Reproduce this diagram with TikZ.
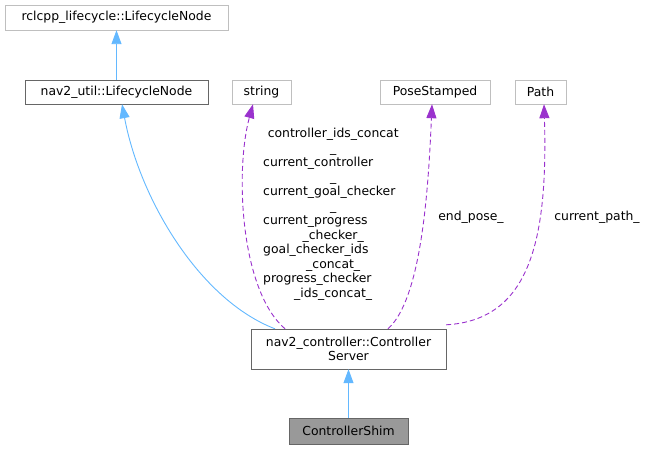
\documentclass[tikz,border=0pt]{standalone}
\usepackage{fontspec}
\setmainfont{DejaVu Sans}
\usepackage{xcolor}
\usetikzlibrary{arrows.meta}
\definecolor{inheritblue}{HTML}{63B8FF}
\definecolor{memberpurple}{HTML}{9A32CD}
\newcommand{\lline}[1]{\makebox[140pt][l]{#1}}

\begin{document}
\begin{tikzpicture}[
    x=1pt,
    y=-1pt,
    font=\fontsize{12.4pt}{14.5pt}\selectfont,
    extclass/.style={draw=black!25, fill=white, minimum height=24pt, inner sep=2pt},
    docclass/.style={draw=black!60, fill=white, minimum height=24pt, inner sep=2pt},
    thisclass/.style={draw=black!60, fill=black!40, minimum height=26pt, inner sep=2pt},
    inherit/.style={draw=inheritblue, line width=0.9pt, -{Triangle[length=14pt, width=10pt]}},
    member/.style={draw=memberpurple, line width=0.9pt, dash pattern=on 5pt off 3pt, -{Triangle[length=14pt, width=10pt]}},
    edgelabel/.style={inner sep=0pt, text=black}
]
\useasboundingbox (0,0) rectangle (647,449);
\node[extclass, minimum width=223pt, minimum height=25pt] (rcl) at (116.5,17.5) {rclcpp\_lifecycle::LifecycleNode};
\node[docclass, minimum width=183pt] (util) at (116.5,92) {nav2\_util::LifecycleNode};
\node[extclass, minimum width=59pt] (str) at (261.5,92) {string};
\node[extclass, minimum width=110pt] (pose) at (435,92) {PoseStamped};
\node[extclass, minimum width=51pt] (path) at (540.5,92) {Path};
\node[docclass, minimum width=195pt, minimum height=40pt, align=center] (srv) at (348.5,349) {nav2\_controller::Controller\\Server};
\node[thisclass, minimum width=119pt] (shim) at (348.5,431) {ControllerShim};
\draw[inherit] (util) -- (rcl);
\draw[inherit] ([xshift=-73.5pt]srv.north) .. controls (200,300) and (140,200) .. ([xshift=5.5pt]util.south);
\draw[member] ([xshift=-63.5pt]srv.north) .. controls (240,290) and (235,170) .. ([xshift=-8.5pt]str.south);
\draw[member] ([xshift=39.5pt]srv.north) .. controls (420,300) and (428,200) .. ([xshift=-3pt]pose.south);
\draw[member] ([yshift=4pt]srv.north east) .. controls (530,320) and (548,240) .. ([xshift=3.5pt]path.south);
\draw[inherit] (shim) -- (srv);
\node[edgelabel, anchor=north west, text width=140pt, align=center] (strlbl) at (263,128) {controller\_ids\_concat\\ \_\\ \lline{current\_controller}\\ \_\\ \lline{current\_goal\_checker}\\ \_\\ \lline{current\_progress}\\ \_checker\_\\ \lline{goal\_checker\_ids}\\ \_concat\_\\ \lline{progress\_checker}\\ \_ids\_concat\_};
\node[edgelabel] (poselbl) at (471,217) {end\_pose\_};
\node[edgelabel] (pathlbl) at (597,217) {current\_path\_};
\end{tikzpicture}
\end{document}
